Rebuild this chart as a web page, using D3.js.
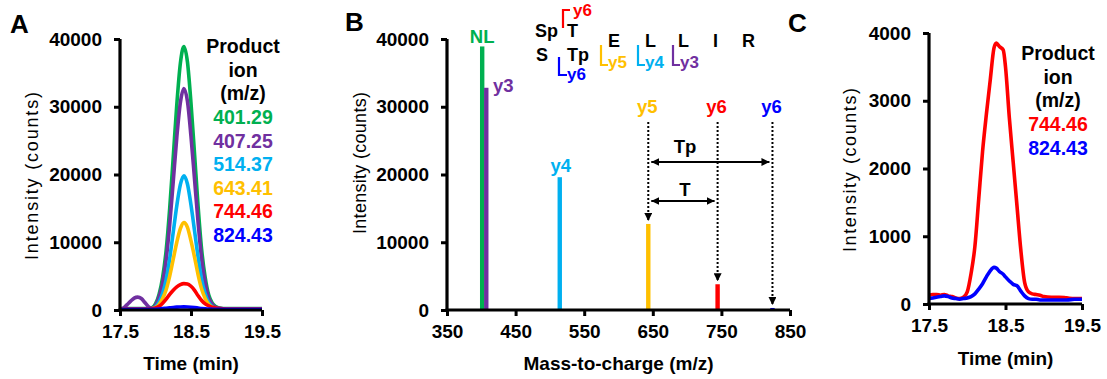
<!DOCTYPE html>
<html><head><meta charset="utf-8">
<script src="https://cdn.jsdelivr.net/npm/d3@7/dist/d3.min.js"></script>
<style>
body{margin:0;background:#fff;}
svg{display:block;font-family:"Liberation Sans",Arial,sans-serif;font-weight:bold;}
</style></head><body>
<svg id="chart" width="1107" height="379"></svg>
<script>
// ---------- DATA ----------
const ionLabels = ["401.29","407.25","514.37","643.41","744.46","824.43"];
const ionColors = ["#00b050","#7030a0","#00b0f0","#ffc000","#ff0000","#0000ff"];
// Panel A: extracted ion chromatograms
const timesA = [17.5,17.55,17.6,17.65,17.7,17.75,17.8,17.85,17.9,17.95,18.0,18.05,18.1,18.15,18.2,18.25,18.3,18.35,18.4,18.45,18.5,18.55,18.6,18.65,18.7,18.75,18.8,18.85,18.9,19.0,19.1,19.2,19.3,19.4,19.5];
const ion401 = [200,200,200,200,200,200,200,200,250,350,900,2300,4800,8800,15000,22600,30300,36400,38900,36600,30500,23000,15300,8900,4800,2200,1000,500,300,200,200,200,200,200,200];
const ion407 = [150,300,800,1300,1750,1900,1700,1100,500,250,700,1900,4000,7400,12600,19000,25500,30600,32700,30800,25600,19300,12900,7500,4000,1800,800,400,250,150,150,150,150,150,150];
const ion514 = [150,150,150,150,150,150,150,150,180,220,450,1150,2450,4500,7600,11500,15400,18500,19800,18600,15500,11700,7800,4500,2400,1100,500,250,180,150,150,150,150,150,150];
const ion643 = [120,120,120,120,120,120,120,120,150,200,350,800,1700,3000,5000,7500,10000,12000,12900,12200,10200,7800,5200,3100,1700,800,400,220,150,120,120,120,120,120,120];
const ion744 = [150,150,150,150,150,150,150,150,150,200,300,550,1000,1600,2300,2900,3400,3750,3900,3850,3500,2900,2100,1400,900,600,400,280,200,150,150,150,150,150,150];
const ion824 = [100,100,100,100,100,100,100,100,100,100,120,150,200,260,320,380,420,450,460,440,400,350,290,230,180,140,120,100,100,100,100,100,100,100,100];
const seriesA = [ion401, ion407, ion514, ion643, ion744, ion824];

// Panel B: product ion spectrum
const mzValues = [401.29,407.25,514.37,643.41,744.46,824.43];
const mzIntensity = [38900,32800,19600,12700,3800,300];
const barLabels = ["NL","y3","y4","y5","y6","y6"];

// Panel C: phospho-specific ions
const timesC = [17.5,17.55,17.6,17.65,17.7,17.75,17.8,17.85,17.9,17.95,18.0,18.05,18.1,18.15,18.2,18.25,18.3,18.35,18.38,18.42,18.47,18.5,18.55,18.6,18.65,18.7,18.75,18.8,18.85,18.9,18.95,19.0,19.1,19.2,19.3,19.4,19.5];
const c744 = [130,140,140,130,140,120,110,90,80,100,180,450,850,1550,2250,2800,3300,3780,3850,3800,3750,3500,2750,2100,1450,800,320,180,150,140,130,110,100,100,90,80,80];
const c824 = [80,90,100,110,120,110,90,80,70,80,90,110,150,220,300,400,490,540,530,480,440,400,340,290,270,190,120,80,70,70,60,60,60,60,60,70,70];
const seriesC = [c744, c824];
const labelsC = ["744.46","824.43"];
const colorsC = ["#ff0000","#0000ff"];

const ticksA = [0,10000,20000,30000,40000];
const ticksTime = [17.5,18.5,19.5];
const ticksMz = [350,450,550,650,750,850];
const ticksC = [0,1000,2000,3000,4000];

// ---------- DRAW ----------
const svg = d3.select("#chart");
const FS = 19;

function axes(g, x, y, xt, yt, xTitle, yTitle, xTitleY) {
  const ax = g.append("g").attr("transform", `translate(0,${y.range()[0]})`)
    .call(d3.axisBottom(x).tickValues(xt).tickSize(6).tickSizeOuter(0).tickPadding(9).tickFormat(d3.format(".1f")));
  const ay = g.append("g").attr("transform", `translate(${x.range()[0]},0)`)
    .call(d3.axisLeft(y).tickValues(yt).tickSize(6).tickSizeOuter(0).tickPadding(12).tickFormat(d => d));
  [ax, ay].forEach(a => {
    a.select(".domain").attr("stroke", "#000").attr("stroke-width", 3.2);
    a.selectAll(".tick line").attr("stroke", "#000").attr("stroke-width", 3);
    a.selectAll("text").attr("font-size", FS).attr("font-weight", "bold").attr("fill", "#000").attr("font-family", "Liberation Sans, Arial, sans-serif");
  });
  ax.select(".domain").attr("d", `M${x.range()[0]-1.5},0H${x.range()[1]}`);
  ay.select(".domain").attr("d", `M0,${y.range()[1]}V${y.range()[0]+1.5}`);
  g.append("text").attr("x", (x.range()[0]+x.range()[1])/2).attr("y", xTitleY)
    .attr("text-anchor", "middle").attr("font-size", FS).text(xTitle);
  g.append("text").attr("transform", `translate(${yTitle.x},${yTitle.y}) rotate(-90)`)
    .attr("text-anchor", "middle").attr("font-size", 18).attr("font-weight", "normal")
    .attr("textLength", yTitle.len).attr("lengthAdjust", "spacing")
    .text("Intensity (counts)");
  return {ax, ay};
}

const defs = svg.append("defs");
defs.append("marker").attr("id","arr").attr("viewBox","0 0 10 10").attr("refX",10).attr("refY",5)
  .attr("markerWidth",8).attr("markerHeight",8).attr("markerUnits","userSpaceOnUse").attr("orient","auto-start-reverse")
  .append("path").attr("d","M0,0L10,5L0,10Z").attr("fill","#000");

// Panel A
{
  const g = svg.append("g");
  const x = d3.scaleLinear().domain([17.5,19.5]).range([120,262]);
  const y = d3.scaleLinear().domain([0,40000]).range([310,39]);
  const line = d3.line().x((d,i) => x(timesA[i])).y(d => y(d)).curve(d3.curveMonotoneX);
  seriesA.forEach((s, k) => {
    g.append("path").datum(s).attr("d", line).attr("fill", "none")
      .attr("stroke", ionColors[k]).attr("stroke-width", 3.6).attr("stroke-linejoin", "round");
  });
  const a = axes(g, x, y, ticksTime, ticksA, "Time (min)", {x: 38, y: 176, len: 168}, 370);
  a.ax.selectAll("text").attr("dy", "0.71em");
  g.append("text").attr("x", 10).attr("y", 33).attr("font-size", 26).text("A");
  const lx = 243;
  ["Product","ion","(m/z)"].forEach((t,i) => g.append("text").attr("x", lx).attr("y", 53 + i*23.6)
    .attr("text-anchor","middle").attr("font-size", 19.5).attr("fill","#000").text(t));
  ionLabels.forEach((t,i) => g.append("text").attr("x", lx).attr("y", 124 + i*23.6)
    .attr("text-anchor","middle").attr("font-size", 19.5).attr("fill", ionColors[i]).text(t));
}

// Panel B
{
  const g = svg.append("g");
  const x = d3.scaleLinear().domain([350,850]).range([447,790]);
  const y = d3.scaleLinear().domain([0,40000]).range([310,39]);
  const idx = d3.range(mzValues.length);
  g.selectAll("rect.bar").data(idx).join("rect").attr("class","bar")
    .attr("x", i => x(mzValues[i]) - 2.2).attr("width", 4.4)
    .attr("y", i => y(mzIntensity[i])).attr("height", i => y(0) - y(mzIntensity[i]))
    .attr("fill", i => ionColors[i]);
  const a = axes(g, x, y, ticksMz, ticksA, "Mass-to-charge (m/z)", {x: 366, y: 163, len: 142}, 370);
  a.ax.selectAll("text").text(d => d);
  g.append("text").attr("x", 345).attr("y", 31).attr("font-size", 26).text("B");
  // bar labels
  const BL = 18.5;
  g.append("text").attr("x", x(mzValues[0])).attr("y", 43).attr("text-anchor","middle").attr("font-size",BL).attr("fill", ionColors[0]).text(barLabels[0]);
  g.append("text").attr("x", x(mzValues[1]) + 17).attr("y", 92).attr("text-anchor","middle").attr("font-size",BL).attr("fill", ionColors[1]).text(barLabels[1]);
  g.append("text").attr("x", x(mzValues[2]) + 1).attr("y", 172).attr("text-anchor","middle").attr("font-size",BL).attr("fill", ionColors[2]).text(barLabels[2]);
  [3,4,5].forEach(i => g.append("text").attr("x", x(mzValues[i]) - 1).attr("y", 113).attr("text-anchor","middle").attr("font-size",BL).attr("fill", ionColors[i]).text(barLabels[i]));
  // dotted arrows down to bars
  [3,4,5].forEach(i => {
    g.append("line").attr("x1", x(mzValues[i])).attr("x2", x(mzValues[i]))
      .attr("y1", 122).attr("y2", y(mzIntensity[i]) - 3)
      .attr("stroke","#000").attr("stroke-width",2).attr("stroke-dasharray","2,2")
      .attr("marker-end","url(#arr)");
  });
  // double arrows
  const arrowRow = (x1, x2, yy, label, ly) => {
    g.append("line").attr("x1", x1).attr("x2", x2).attr("y1", yy).attr("y2", yy)
      .attr("stroke","#000").attr("stroke-width",2).attr("marker-start","url(#arr)").attr("marker-end","url(#arr)");
    g.append("text").attr("x", 685).attr("y", ly).attr("text-anchor","middle").attr("font-size",18.5).text(label);
  };
  arrowRow(x(mzValues[3]) + 3, x(mzValues[5]) - 3, 162, "Tp", 153);
  arrowRow(x(mzValues[3]) + 3, x(mzValues[4]) - 3, 201, "T", 196);
  // peptide sequence annotation
  const seq = [["Sp",535,37],["T",567,37],["S",536,61],["Tp",567,61],["E",608,47],["L",645,47],["L",678,47],["I",713,47],["R",742,47]];
  seq.forEach(s => g.append("text").attr("x", s[1]).attr("y", s[2]).attr("font-size",18).text(s[0]));
  const bracket = (pts, color) => g.append("path").attr("d", d3.line()(pts)).attr("fill","none").attr("stroke",color).attr("stroke-width",2.2);
  bracket([[563,28],[563,10],[570,10]], ionColors[4]);
  g.append("text").attr("x",573).attr("y",16).attr("font-size",17).attr("fill",ionColors[4]).text("y6");
  bracket([[559,57],[559,75],[567,75]], ionColors[5]);
  g.append("text").attr("x",567).attr("y",80).attr("font-size",17).attr("fill",ionColors[5]).text("y6");
  [[601,3,"y5"],[638,2,"y4"],[673,1,"y3"]].forEach(b => {
    bracket([[b[0],45],[b[0],65],[b[0]+7,65]], ionColors[b[1]]);
    g.append("text").attr("x",b[0]+7).attr("y",68).attr("font-size",17).attr("fill",ionColors[b[1]]).text(b[2]);
  });
}

// Panel C
{
  const g = svg.append("g");
  const x = d3.scaleLinear().domain([17.5,19.5]).range([929,1082]);
  const y = d3.scaleLinear().domain([0,4000]).range([304,33]);
  const line = d3.line().x((d,i) => x(timesC[i])).y(d => y(d)).curve(d3.curveMonotoneX);
  seriesC.forEach((s,k) => g.append("path").datum(s).attr("d", line).attr("fill","none")
    .attr("stroke", colorsC[k]).attr("stroke-width", 3.6).attr("stroke-linejoin","round"));
  const a = axes(g, x, y, ticksTime, ticksC, "Time (min)", {x: 856, y: 170, len: 164}, 365);
  a.ax.selectAll("text").attr("dy","0.71em");
  g.append("text").attr("x", 788).attr("y", 32).attr("font-size", 26).text("C");
  const lx = 1058;
  ["Product","ion","(m/z)"].forEach((t,i) => g.append("text").attr("x", lx).attr("y", 60 + i*23.5)
    .attr("text-anchor","middle").attr("font-size",19.5).text(t));
  labelsC.forEach((t,i) => g.append("text").attr("x", lx).attr("y", 131 + i*23.5)
    .attr("text-anchor","middle").attr("font-size",19.5).attr("fill", colorsC[i]).text(t));
}
</script></body></html>
